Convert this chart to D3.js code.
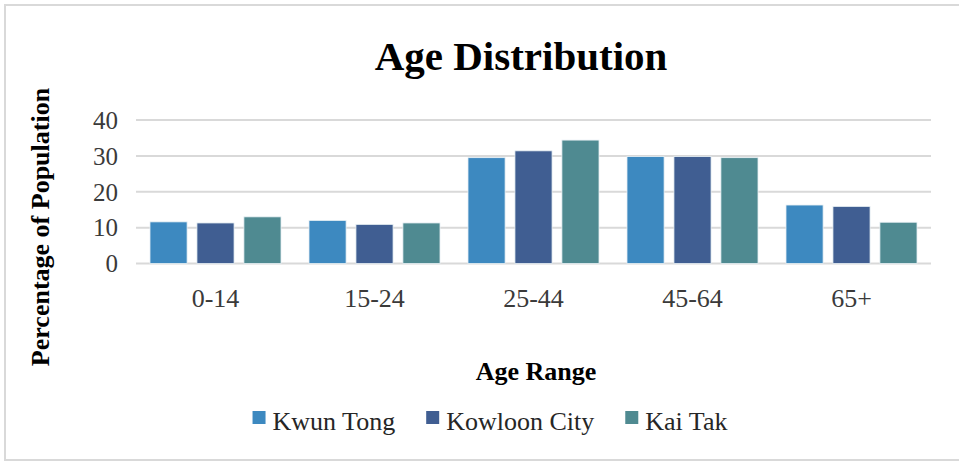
<!DOCTYPE html>
<html>
<head>
<meta charset="utf-8">
<script src="https://cdn.jsdelivr.net/npm/d3@7"></script>
<style>
  html, body { margin: 0; padding: 0; background: #fff; }
  svg { display: block; }
</style>
</head>
<body>
<svg id="chart" width="959" height="462"></svg>
<script>
// Age groups on the x axis
const ageRanges = ["0-14", "15-24", "25-44", "45-64", "65+"];
// Districts (series)
const districts = ["Kwun Tong", "Kowloon City", "Kai Tak"];
// Percentage of population per age group, one array per district
const kwunTong    = [11.6, 12.0, 29.5, 29.8, 16.3];
const kowloonCity = [11.3, 10.9, 31.4, 29.8, 15.9];
const kaiTak      = [13.0, 11.3, 34.4, 29.5, 11.5];
// Y axis ticks
const yTicks = [0, 10, 20, 30, 40];
const seriesColors = ["#3d89c0", "#405e92", "#4f8a91"];

const SERIF = "'Liberation Serif', 'Times New Roman', Times, 'DejaVu Serif', serif";

const seriesValues = [kwunTong, kowloonCity, kaiTak];
const rows = ageRanges.map((age, i) => ({
  age,
  values: districts.map((d, j) => ({ district: d, value: seriesValues[j][i], idx: j }))
}));

const svg = d3.select("#chart");
const W = 959, H = 462;

// chart frame
svg.append("rect")
  .attr("x", 5).attr("y", 5)
  .attr("width", W + 10).attr("height", H - 7)
  .attr("fill", "none").attr("stroke", "#d9d9d9").attr("stroke-width", 2);

const plot = { left: 136, right: 931, top: 120, bottom: 263.5 };

const x = d3.scaleBand()
  .domain(ageRanges)
  .range([plot.left, plot.right])
  .paddingInner(0.176)
  .paddingOuter(0.088);

const xInner = d3.scaleBand()
  .domain(districts)
  .range([0, x.bandwidth()])
  .paddingInner(0.21);

const y = d3.scaleLinear()
  .domain([0, 40])
  .range([plot.bottom, plot.top]);

// gridlines
svg.append("g")
  .selectAll("line")
  .data(yTicks)
  .join("line")
  .attr("x1", plot.left).attr("x2", plot.right)
  .attr("y1", d => y(d)).attr("y2", d => y(d))
  .attr("stroke", "#d9d9d9").attr("stroke-width", 2);

// y axis labels
const yAxis = svg.append("g")
  .attr("transform", `translate(${plot.left - 18},0)`)
  .call(d3.axisLeft(y).tickValues(yTicks).tickSize(0).tickPadding(0));
yAxis.attr("font-family", null).attr("font-size", null);
yAxis.select(".domain").remove();
yAxis.selectAll("text")
  .style("font-family", SERIF)
  .style("font-size", "25px")
  .attr("fill", "#3a3a3a")
  .attr("dy", "0.33em");

// x axis labels
const xAxis = svg.append("g")
  .attr("transform", `translate(0,${plot.bottom})`)
  .call(d3.axisBottom(x).tickSize(0).tickPadding(0));
xAxis.attr("font-family", null).attr("font-size", null);
xAxis.select(".domain").remove();
xAxis.selectAll("text")
  .style("font-family", SERIF)
  .style("font-size", "26px")
  .attr("fill", "#3a3a3a")
  .attr("dy", "0")
  .attr("y", 43);

// bars
const groups = svg.append("g")
  .selectAll("g")
  .data(rows)
  .join("g")
  .attr("transform", d => `translate(${x(d.age)},0)`);

groups.selectAll("rect")
  .data(d => d.values)
  .join("rect")
  .attr("x", d => xInner(d.district))
  .attr("width", xInner.bandwidth())
  .attr("y", d => y(d.value))
  .attr("height", d => y(0) - y(d.value))
  .attr("fill", d => seriesColors[d.idx])
  .attr("stroke", "#e8f0f4")
  .attr("stroke-width", 0.8);

// title
svg.append("text")
  .attr("x", 521).attr("y", 70)
  .attr("text-anchor", "middle")
  .style("font-family", SERIF)
  .style("font-size", "41px")
  .style("font-weight", "bold")
  .attr("fill", "#000")
  .text("Age Distribution");

// y axis title
svg.append("text")
  .attr("transform", "translate(49,227) rotate(-90)")
  .attr("text-anchor", "middle")
  .style("font-family", SERIF)
  .style("font-size", "26px")
  .style("font-weight", "bold")
  .attr("fill", "#000")
  .text("Percentage of Population");

// x axis title
svg.append("text")
  .attr("x", 536).attr("y", 380)
  .attr("text-anchor", "middle")
  .style("font-family", SERIF)
  .style("font-size", "26px")
  .style("font-weight", "bold")
  .attr("fill", "#000")
  .text("Age Range");

// legend
const legend = svg.append("g");
const sq = 13, sqGap = 7, itemGap = 31, legendY = 430;
let cursor = 0;
districts.forEach((d, i) => {
  const g = legend.append("g");
  g.append("rect")
    .attr("x", 0).attr("y", -19)
    .attr("width", sq).attr("height", sq)
    .attr("fill", seriesColors[i]);
  const t = g.append("text")
    .attr("x", sq + sqGap).attr("y", 0)
    .style("font-family", SERIF)
    .style("font-size", "26px")
    .attr("fill", "#262626")
    .text(d);
  const w = sq + sqGap + t.node().getComputedTextLength();
  g.attr("transform", `translate(${cursor},${legendY})`);
  cursor += w + itemGap;
});
const legendWidth = cursor - itemGap;
legend.attr("transform", `translate(${490 - legendWidth / 2},0)`);
</script>
</body>
</html>
